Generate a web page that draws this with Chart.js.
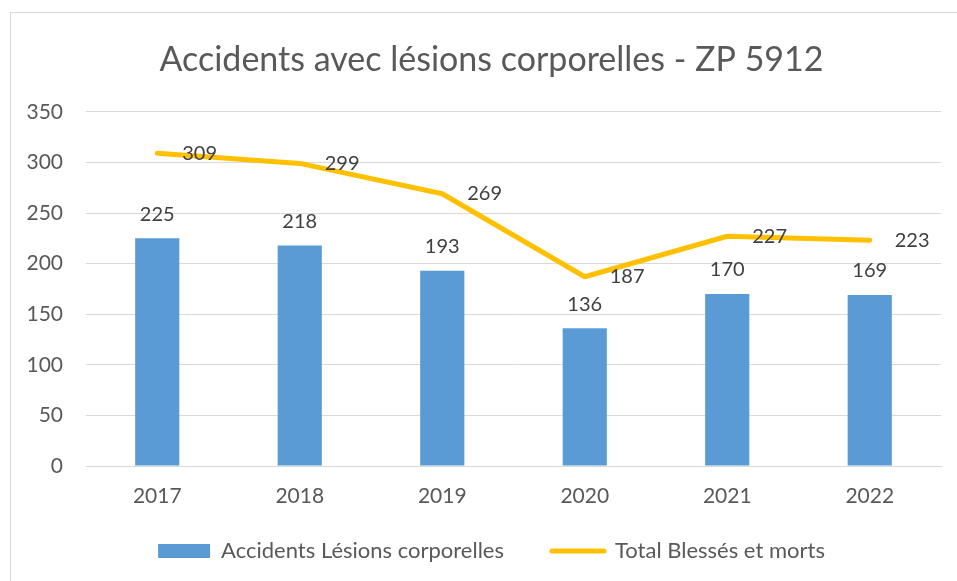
<!DOCTYPE html>
<html>
<head>
<meta charset="utf-8">
<script src="https://cdn.jsdelivr.net/npm/chart.js@4/dist/chart.umd.min.js"></script>
<style>
  html, body { margin: 0; padding: 0; background: #fff; overflow: hidden; }
  #frame {
    position: absolute; left: 10px; top: 12px;
    width: 961px; height: 600px;
    border: 1px solid #d9d9d9;
  }
</style>
</head>
<body>
<div id="frame"><canvas id="chart" width="961" height="600"></canvas></div>
<script>
// data
const years = ['2017', '2018', '2019', '2020', '2021', '2022'];
const accidents = [225, 218, 193, 136, 170, 169];
const blessesMorts = [309, 299, 269, 187, 227, 223];
const yTicks = [0, 50, 100, 150, 200, 250, 300, 350];

const FONT = 'Lato, "Open Sans", sans-serif';
const TEXT = '#595959';

// value labels: above bars, right of line points
const valueLabels = {
  id: 'valueLabels',
  afterDatasetsDraw(chart) {
    const ctx = chart.ctx;
    ctx.save();
    ctx.font = '20px ' + FONT;
    ctx.fillStyle = '#404040';
    ctx.textBaseline = 'middle';
    chart.data.datasets.forEach((ds, i) => {
      const meta = chart.getDatasetMeta(i);
      meta.data.forEach((el, j) => {
        if (ds.type === 'line') {
          ctx.textAlign = 'left';
          ctx.fillText(ds.data[j], el.x + 25, el.y);
        } else {
          ctx.textAlign = 'center';
          ctx.fillText(ds.data[j], el.x, el.y - 24);
        }
      });
    });
    ctx.restore();
  }
};

// the legend needs wide gaps between items but sits close under the axis
const liftLegend = {
  id: 'liftLegend',
  afterLayout(chart) {
    chart.legend.top -= 30;
    chart.legend.bottom -= 30;
  }
};

const ctx = document.getElementById('chart').getContext('2d');
new Chart(ctx, {
  data: {
    labels: years,
    datasets: [
      {
        type: 'line',
        label: 'Total Blessés et morts',
        data: blessesMorts,
        borderColor: '#FFC000',
        backgroundColor: '#FFC000',
        borderWidth: 5,
        borderCapStyle: 'round',
        borderJoinStyle: 'round',
        pointRadius: 0,
        tension: 0,
        order: 0
      },
      {
        type: 'bar',
        label: 'Accidents Lésions corporelles',
        data: accidents,
        backgroundColor: '#5B9BD5',
        borderColor: '#5B9BD5',
        borderWidth: 0,
        barPercentage: 0.31,
        categoryPercentage: 1,
        order: 1
      }
    ]
  },
  options: {
    responsive: false,
    animation: false,
    layout: { padding: { left: 0, right: 0, top: 0, bottom: 11 } },
    plugins: {
      title: {
        display: true,
        text: 'Accidents avec lésions corporelles - ZP 5912',
        color: TEXT,
        font: { family: FONT, size: 34, weight: 'normal' },
        padding: { top: 27, bottom: 31 }
      },
      legend: {
        position: 'bottom',
        reverse: true,
        labels: {
          color: TEXT,
          font: { family: FONT, size: 22 },
          usePointStyle: true,
          pointStyleWidth: 52,
          boxHeight: 14,
          padding: 48,
          generateLabels(chart) {
            return chart.data.datasets.map((ds, i) => ({
              text: ds.label,
              datasetIndex: i,
              fillStyle: ds.backgroundColor,
              strokeStyle: ds.borderColor,
              lineWidth: ds.type === 'line' ? 5 : 0,
              lineCap: 'round',
              pointStyle: ds.type === 'line' ? 'line' : 'rect',
              fontColor: TEXT,
              hidden: false
            }));
          }
        }
      },
      tooltip: { enabled: false }
    },
    scales: {
      x: {
        grid: { display: false, drawTicks: false },
        border: { color: '#d9d9d9' },
        ticks: { color: TEXT, font: { family: FONT, size: 21 }, padding: 18 },
        afterFit(s) { s.height = 56; }
      },
      y: {
        min: 0,
        max: 350,
        afterBuildTicks(s) { s.ticks = yTicks.map(v => ({ value: v })); },
        grid: { color: '#d9d9d9', drawTicks: false },
        border: { display: false },
        ticks: { color: TEXT, font: { family: FONT, size: 21 }, padding: 23 },
        afterFit(s) { s.width = 75; }
      },
      // empty right-hand spacer so the plot stops where the reference does
      spacer: {
        type: 'linear',
        position: 'right',
        grid: { display: false, drawTicks: false },
        border: { display: false },
        ticks: { display: false },
        afterFit(s) { s.width = 31; }
      }
    }
  },
  plugins: [valueLabels, liftLegend]
});
</script>
</body>
</html>
